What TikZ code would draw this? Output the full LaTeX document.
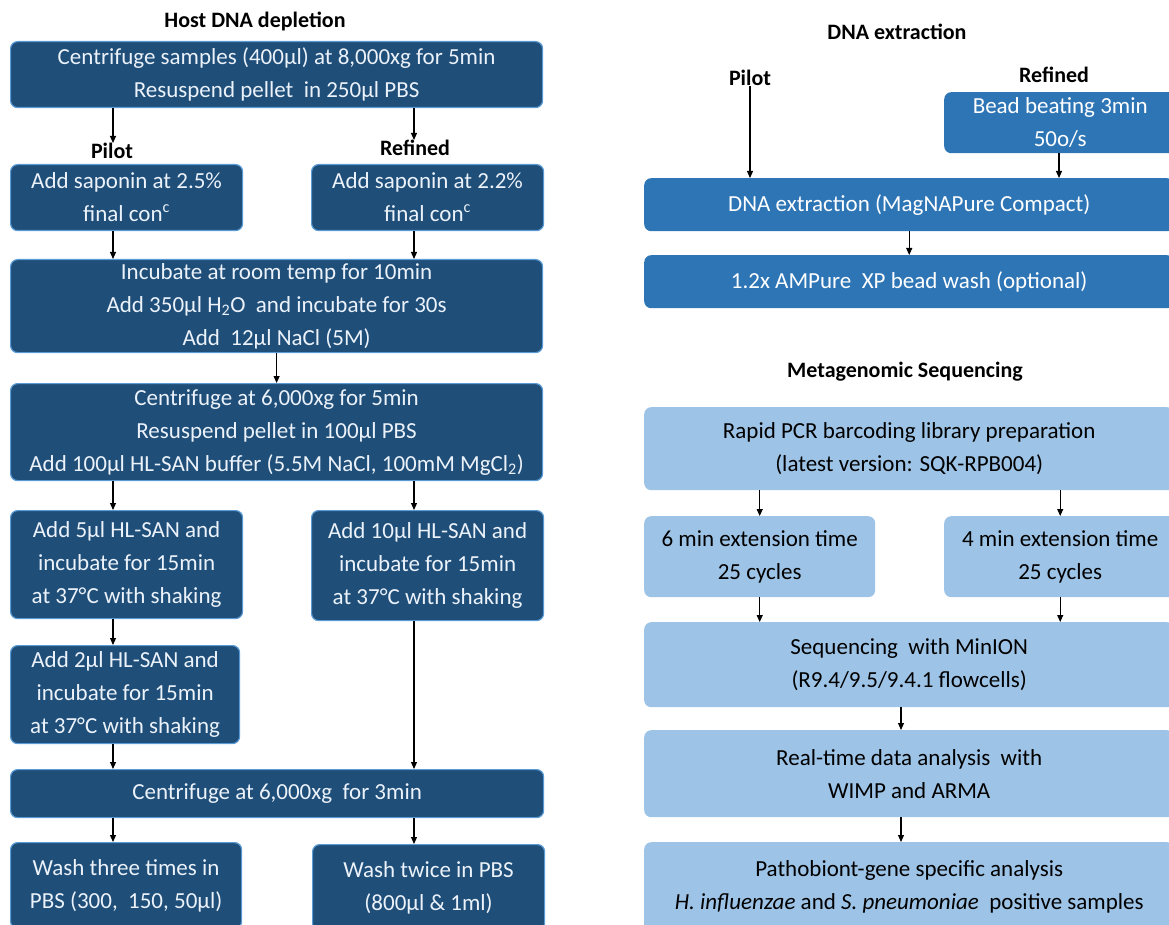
\documentclass[tikz,border=0pt]{standalone}
\usepackage{fontspec}
\setmainfont{Carlito}
\usetikzlibrary{arrows.meta,positioning}
\definecolor{hostcol}{RGB}{31,78,121}
\definecolor{hostedge}{RGB}{91,155,213}
\definecolor{hosttext}{RGB}{235,242,250}
\definecolor{extcol}{RGB}{46,117,182}
\definecolor{seqcol}{RGB}{157,195,230}

\begin{document}
\begin{tikzpicture}[x=1pt, y=-1pt,
  box/.style={rounded corners=7pt, inner sep=0pt, align=center, anchor=north west,
              font=\fontsize{23}{33}\selectfont},
  hostbox/.style={box, fill=hostcol, draw=hostedge, line width=1.2pt, text=hosttext},
  extbox/.style={box, fill=extcol, text=white},
  seqbox/.style={box, fill=seqcol, text=black},
  ttl/.style={font=\fontsize{22}{26}\selectfont\bfseries, inner sep=0pt},
  arr/.style={-{Triangle[length=7pt, width=6pt]}, line width=1.1pt, draw=black}]
  \useasboundingbox (0,0) rectangle (1169,925);
  \clip (0,0) rectangle (1169,925);
  % column guides
  \coordinate (colL) at (113,0);
  \coordinate (colR) at (414,0);
  \coordinate (colM) at (901,0);

  % Host DNA depletion
  \node[ttl] (hosttl) at (255,21) {Host DNA depletion};
  \node[hostbox, minimum width=532pt, minimum height=66pt] (cent1) at (10,41)
    {Centrifuge samples (400µl) at 8,000xg for 5min\\Resuspend pellet \ in 250µl PBS};
  \node[ttl] (pilotL) at (112,151) {Pilot};
  \node[ttl] (refL) at (415,148) {Refined};
  \node[hostbox, minimum width=232pt, minimum height=66pt] (sapL) at (10,164)
    {Add saponin at 2.5\%\\final con\textsuperscript{c}};
  \node[hostbox, minimum width=232pt, minimum height=66pt] (sapR) at (311,164)
    {Add saponin at 2.2\%\\final con\textsuperscript{c}};
  \node[hostbox, minimum width=532pt, minimum height=93pt] (incub) at (10,259)
    {Incubate at room temp for 10min\\Add 350µl H\textsubscript{2}O \ and incubate for 30s\\Add \ 12µl NaCl (5M)};
  \node[hostbox, minimum width=532pt, minimum height=97pt] (cent2) at (10,383)
    {Centrifuge at 6,000xg for 5min\\Resuspend pellet in 100µl PBS\\Add 100µl HL-SAN buffer (5.5M NaCl, 100mM MgCl\textsubscript{2})};
  \node[hostbox, minimum width=232pt, minimum height=108pt] (hlL) at (10,510)
    {Add 5µl HL-SAN and\\incubate for 15min\\at 37°C with shaking};
  \node[hostbox, minimum width=232pt, minimum height=110pt] (hlR) at (311,510)
    {Add 10µl HL-SAN and\\incubate for 15min\\at 37°C with shaking};
  \node[hostbox, minimum width=229pt, minimum height=98pt] (hl2) at (10,645)
    {Add 2µl HL-SAN and\\incubate for 15min\\at 37°C with shaking};
  \node[hostbox, minimum width=533pt, minimum height=48pt] (cent3) at (10,769)
    {Centrifuge at 6,000xg \ for 3min};
  \node[hostbox, minimum width=231pt, minimum height=86pt] (washL) at (10,842)
    {Wash three times in\\PBS (300, \ 150, 50µl)};
  \node[hostbox, minimum width=232pt, minimum height=86pt] (washR) at (312,844)
    {Wash twice in PBS\\(800µl \& 1ml)};

  \draw[arr] (cent1.south -| colL) -- (pilotL.north -| colL);
  \draw[arr] (cent1.south -| colR) -- (refL.north -| colR);
  \draw[arr] (sapL.south -| colL) -- (incub.north -| colL);
  \draw[arr] (sapR.south -| colR) -- (incub.north -| colR);
  \draw[arr] (incub.south) -- (cent2.north);
  \draw[arr] (cent2.south -| colL) -- (hlL.north -| colL);
  \draw[arr] (cent2.south -| colR) -- (hlR.north -| colR);
  \draw[arr] (hlL.south -| colL) -- (hl2.north -| colL);
  \draw[arr] (hl2.south -| colL) -- (cent3.north -| colL);
  \draw[arr] (hlR.south -| colR) -- (cent3.north -| colR);
  \draw[arr] (cent3.south -| colL) -- (washL.north -| colL);
  \draw[arr] (cent3.south -| colR) -- (washR.north -| colR);

  % DNA extraction
  \node[ttl] (exttl) at (897,32) {DNA extraction};
  \node[ttl] (pilotR) at (750,78) {Pilot};
  \node[ttl] (refR) at (1054,75) {Refined};
  \node[extbox, minimum width=232pt, minimum height=61pt] (bead) at (944,92)
    {Bead beating 3min\\50o/s};
  \node[extbox, minimum width=530pt, minimum height=53pt] (magna) at (644,178)
    {DNA extraction (MagNAPure Compact)};
  \node[extbox, minimum width=530pt, minimum height=53pt] (ampure) at (644,255)
    {1.2x AMPure \ XP bead wash (optional)};
  \draw[arr] (pilotR.south) -- (magna.north -| pilotR);
  \draw[arr] (bead.south -| 1059,0) -- (magna.north -| 1059,0);
  \draw[arr] (magna.south) -- (ampure.north);

  % Metagenomic Sequencing
  \node[ttl] (seqttl) at (905,372) {Metagenomic Sequencing};
  \node[seqbox, minimum width=530pt, minimum height=83pt] (rapid) at (644,407)
    {Rapid PCR barcoding library preparation\\(latest version: SQK-RPB004)};
  \node[seqbox, minimum width=231pt, minimum height=81pt] (ext6) at (644,516)
    {6 min extension time\\25 cycles};
  \node[seqbox, minimum width=232pt, minimum height=81pt] (ext4) at (944,516)
    {4 min extension time\\25 cycles};
  \node[seqbox, minimum width=530pt, minimum height=85pt] (minion) at (644,622)
    {Sequencing \ with MinION\\(R9.4/9.5/9.4.1 flowcells)};
  \node[seqbox, minimum width=530pt, minimum height=87pt] (realt) at (644,730)
    {Real-time data analysis \ with\\WIMP and ARMA};
  \node[seqbox, minimum width=530pt, minimum height=90pt] (patho) at (644,842)
    {Pathobiont-gene specific analysis\\\textit{H. influenzae} and \textit{S. pneumoniae} \ positive samples};
  \draw[arr] (rapid.south -| ext6) -- (ext6.north);
  \draw[arr] (rapid.south -| ext4) -- (ext4.north);
  \draw[arr] (ext6.south) -- (minion.north -| ext6);
  \draw[arr] (ext4.south) -- (minion.north -| ext4);
  \draw[arr] (minion.south -| colM) -- (realt.north -| colM);
  \draw[arr] (realt.south -| colM) -- (patho.north -| colM);
\end{tikzpicture}
\end{document}
